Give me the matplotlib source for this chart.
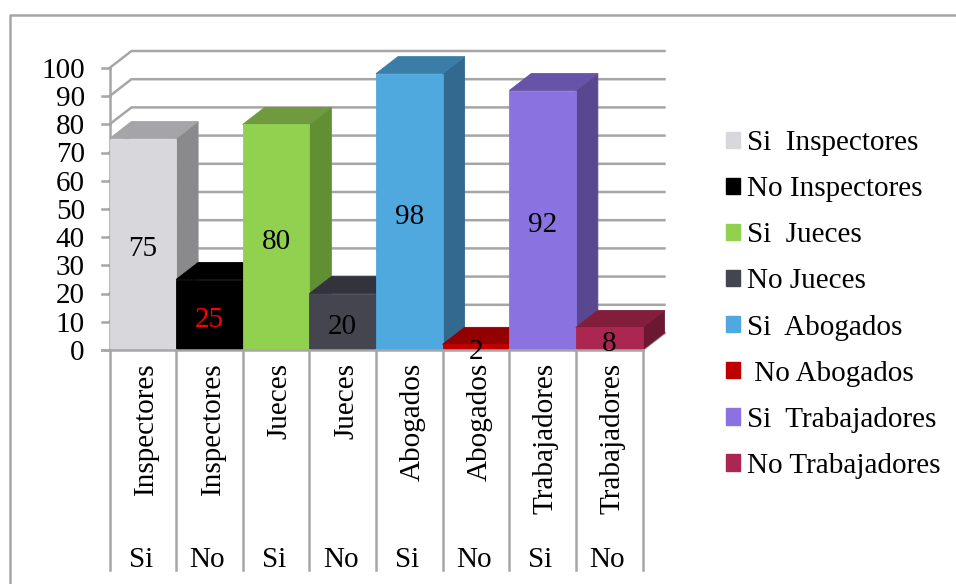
import matplotlib
import matplotlib.pyplot as plt
from matplotlib.lines import Line2D
from matplotlib.patches import Patch, Polygon
matplotlib.use("Agg")

plt.rcParams["font.family"] = ["Liberation Serif", "DejaVu Serif"]

groups = ["Inspectores", "Inspectores", "Jueces", "Jueces", "Abogados", "Abogados", "Trabajadores", "Trabajadores"]
answers = ["Si", "No", "Si", "No", "Si", "No", "Si", "No"]
values = [75, 25, 80, 20, 98, 2, 92, 8]
legend_labels = ["Si  Inspectores", "No Inspectores", "Si  Jueces", "No Jueces",
                 "Si  Abogados", " No Abogados", "Si  Trabajadores", "No Trabajadores"]
front_colors = ["#D8D8DC", "#000000", "#92D050", "#45454F", "#4FA8DE", "#C00000", "#8A73E0", "#AB2650"]
top_colors = ["#A5A5A7", "#000000", "#6F9B3E", "#33333D", "#3A7EA8", "#930000", "#6753A8", "#821E3C"]
side_colors = ["#8A8A8C", "#000000", "#619034", "#2C2C34", "#326A8F", "#7A0000", "#59478F", "#6D1832"]
label_colors = ["black", "red", "black", "black", "black", "black", "black", "black"]
yticks = list(range(0, 101, 10))

W, H = 956, 584
GREY = "#A6A6A6"
FS = 21
LW = 1.8
# 3d offset of the back wall, in data units
DX = 22 / 66.7
DY = 17 / 2.82

fig = plt.figure(figsize=(W / 100, H / 100), dpi=100)
ax = fig.add_axes([109.5 / W, 1 - 350 / H, 533 / W, 282 / H])
ax.set_xlim(0, len(values))
ax.set_ylim(0, 100)
ax.axis("off")

# outer chart frame
fig.add_artist(Line2D([10 / W, 10 / W, 1], [0, 1 - 15 / H, 1 - 15 / H], color=GREY, lw=LW))

# walls and gridlines
end = len(values) + DX
for y in yticks:
    ax.plot([0, DX, end], [y, y + DY, y + DY], color=GREY, lw=LW, clip_on=False, zorder=1)
    ax.plot([-0.11, 0], [y, y], color=GREY, lw=LW, clip_on=False, zorder=1)
ax.plot([0, 0], [0, 100], color=GREY, lw=LW, clip_on=False, zorder=1)
ax.plot([len(values), end], [0, DY], color=GREY, lw=LW, clip_on=False, zorder=1)

# bars, left to right so the next one covers the previous one
for i, v in enumerate(values):
    z = 2 + i
    ax.add_patch(Polygon([(i + 1, 0), (i + 1 + DX, DY), (i + 1 + DX, v + DY), (i + 1, v)],
                         color=side_colors[i], lw=0.6, clip_on=False, zorder=z))
    ax.add_patch(Polygon([(i, v), (i + DX, v + DY), (i + 1 + DX, v + DY), (i + 1, v)],
                         color=top_colors[i], lw=0.6, clip_on=False, zorder=z))
    ax.bar(i + 0.5, v, width=1, color=front_colors[i], edgecolor=front_colors[i], lw=0.6,
           clip_on=False, zorder=z)
    ax.text(i + 0.5, v / 2 - 1.7, str(v), color=label_colors[i], fontsize=FS,
            ha="center", va="center", clip_on=False, zorder=20)

# baseline and multilevel category axis
ax.plot([-0.11, len(values)], [0, 0], color=GREY, lw=LW, clip_on=False, zorder=15)
for i in range(len(values) + 1):
    ax.plot([i, i], [0, -78], color=GREY, lw=LW, clip_on=False, zorder=15)
for i in range(len(values)):
    ax.text(i + 0.55, -4.5, groups[i], rotation=90, fontsize=FS, ha="center", va="top", clip_on=False)
    ax.text(i + 0.47, -74.5, answers[i], fontsize=FS, ha="center", va="center", clip_on=False)

for y in yticks:
    ax.text(-0.37, y - 1, str(y), fontsize=FS, ha="right", va="center", clip_on=False)

handles = [Patch(color=c) for c in front_colors]
fig.legend(handles, legend_labels, loc="center left", bbox_to_anchor=(726 / W, 1 - 304.5 / H),
           frameon=False, fontsize=FS, handlelength=0.48, handleheight=0.48,
           handletextpad=0.24, labelspacing=0.69, borderpad=0, borderaxespad=0)

plt.savefig("out.png", dpi=100)
